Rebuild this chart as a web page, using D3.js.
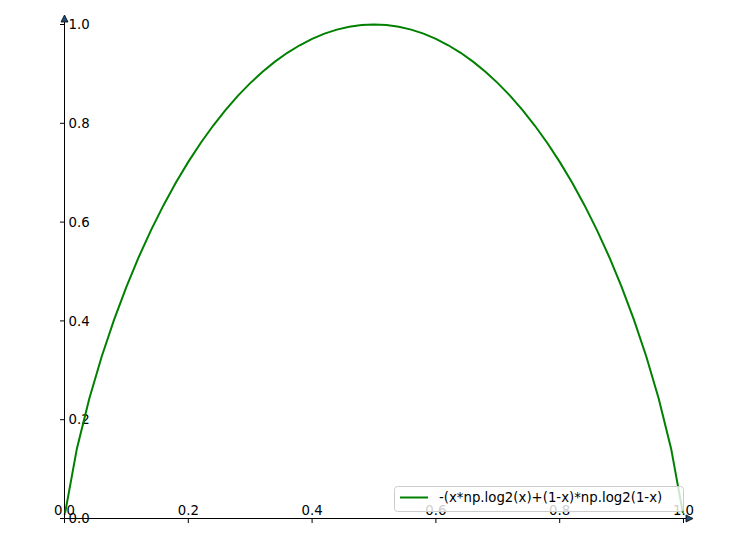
<!DOCTYPE html>
<html><head><meta charset="utf-8">
<script src="https://cdn.jsdelivr.net/npm/d3@7"></script>
<style>body{margin:0;background:#fff;} svg{display:block;font-family:"DejaVu Sans",sans-serif;}</style>
</head><body>
<script>
const xValues = [0.001,0.02,0.04,0.06,0.08,0.10,0.12,0.14,0.16,0.18,0.20,0.22,0.24,0.26,0.28,0.30,0.32,0.34,0.36,0.38,0.40,0.42,0.44,0.46,0.48,0.50,
  0.52,0.54,0.56,0.58,0.60,0.62,0.64,0.66,0.68,0.70,0.72,0.74,0.76,0.78,0.80,0.82,0.84,0.86,0.88,0.90,0.92,0.94,0.96,0.98,0.999];
const yValues = [0.0114,0.1414,0.2423,0.3274,0.4022,0.4690,0.5294,0.5842,0.6343,0.6801,0.7219,0.7602,0.7950,0.8267,0.8555,0.8813,0.9044,0.9248,0.9427,0.9580,0.9710,0.9815,0.9896,0.9954,0.9988,1.0,
  0.9988,0.9954,0.9896,0.9815,0.9710,0.9580,0.9427,0.9248,0.9044,0.8813,0.8555,0.8267,0.7950,0.7602,0.7219,0.6801,0.6343,0.5842,0.5294,0.4690,0.4022,0.3274,0.2423,0.1414,0.0114];
const tickValues = [0.0,0.2,0.4,0.6,0.8,1.0];
const tickLabels = ["0.0","0.2","0.4","0.6","0.8","1.0"];
const seriesLabel = "-(x*np.log2(x)+(1-x)*np.log2(1-x)";

const W = 734, H = 543;
const svg = d3.select("body").append("svg").attr("width", W).attr("height", H);
const x = d3.scaleLinear().domain([0,1]).range([64.5,683.5]);
const y = d3.scaleLinear().domain([0,1]).range([518.5,24.5]);

// axes lines
svg.append("line").attr("x1", x(0)).attr("x2", 688).attr("y1", y(0)).attr("y2", y(0)).attr("stroke","#000").attr("stroke-width",1);
svg.append("line").attr("x1", x(0)).attr("x2", x(0)).attr("y1", y(0)).attr("y2", 20).attr("stroke","#000").attr("stroke-width",1);
// arrows
svg.append("path").attr("d", `M${x(0)-3.5},22 L${x(0)},15 L${x(0)+3.5},22 Z`).attr("fill","#1f4e79").attr("stroke","#000").attr("stroke-width",0.8);
svg.append("path").attr("d", `M686,${y(0)-3.5} L693,${y(0)} L686,${y(0)+3.5} Z`).attr("fill","#1f4e79").attr("stroke","#000").attr("stroke-width",0.8);

// x ticks & labels
const gx = svg.append("g");
tickValues.forEach((t,i)=>{
  gx.append("line").attr("x1",x(t)).attr("x2",x(t)).attr("y1",y(0)).attr("y2",y(0)+4.5).attr("stroke","#000");
  gx.append("text").attr("x",x(t)).attr("y",y(0)-4).attr("text-anchor","middle").attr("font-size",13.3).attr("fill","#000").text(tickLabels[i]);
});
// y ticks & labels
const gy = svg.append("g");
tickValues.forEach((t,i)=>{
  gy.append("line").attr("x1",x(0)-4.5).attr("x2",x(0)).attr("y1",y(t)).attr("y2",y(t)).attr("stroke","#000");
  gy.append("text").attr("x",x(0)+4).attr("y",y(t)).attr("dy","0.36em").attr("text-anchor","start").attr("font-size",13.3).attr("fill","#000").text(tickLabels[i]);
});

// curve
const pts = xValues.map((v,i)=>[v,yValues[i]]);
svg.append("path").datum(pts)
  .attr("d", d3.line().x(d=>x(d[0])).y(d=>y(d[1])))
  .attr("fill","none").attr("stroke","#008000").attr("stroke-width",2);

// legend
const lg = svg.append("g");
lg.append("rect").attr("x",394.5).attr("y",486.5).attr("width",289).attr("height",25).attr("rx",3)
  .attr("fill","rgba(255,255,255,0.8)").attr("stroke","#cccccc").attr("stroke-width",1);
lg.append("line").attr("x1",400).attr("x2",428).attr("y1",497.5).attr("y2",497.5).attr("stroke","#008000").attr("stroke-width",2);
lg.append("text").attr("x",439).attr("y",497.5).attr("dy","0.36em").attr("font-size",13.3).attr("fill","#000").text(seriesLabel);
</script>
</body></html>
